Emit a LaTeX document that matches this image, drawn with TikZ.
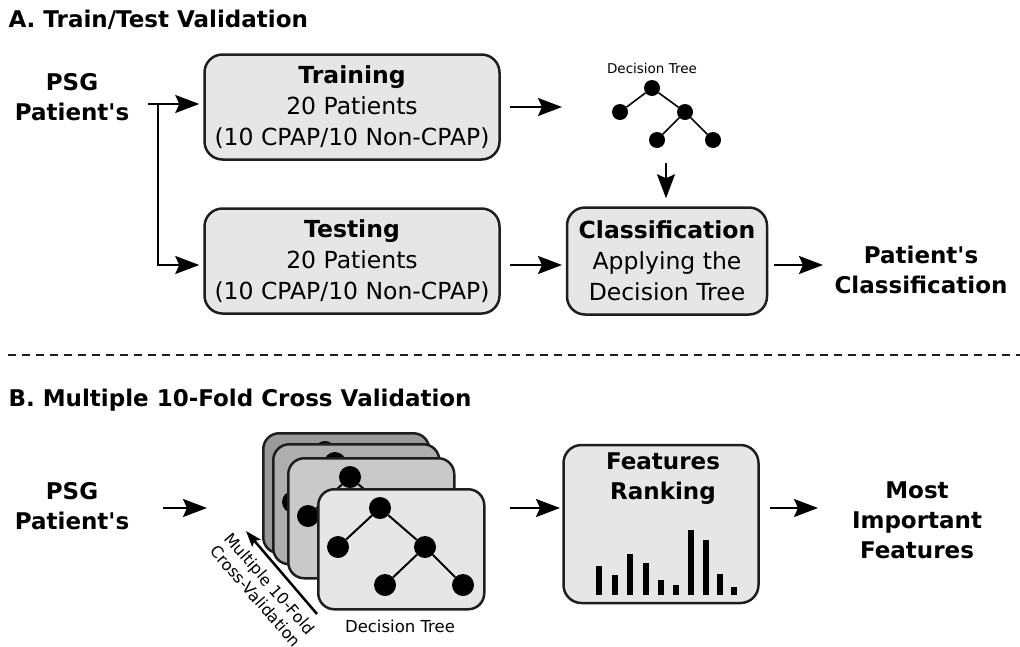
\documentclass[tikz,border=0pt]{standalone}
\usepackage{fontspec}
\setmainfont{DejaVu Sans}[Ligatures=TeXOff]
\usetikzlibrary{arrows.meta}
\usetikzlibrary{positioning}
\definecolor{boxgray}{HTML}{E6E6E6}
\definecolor{edgeblack}{HTML}{1E1E1E}
\definecolor{cardA}{HTML}{9A9A9A}
\definecolor{cardB}{HTML}{AEAEAE}
\definecolor{cardC}{HTML}{C9C9C9}
\tikzset{
box/.style={draw=edgeblack, fill=boxgray, line width=2.5pt, rounded corners=18pt,
    minimum width=295pt, minimum height=105pt, align=center, inner sep=0pt,
    font=\fontsize{23.5}{31}\selectfont},
card/.style={draw=edgeblack, line width=2.5pt, rounded corners=16pt,
    minimum width=166pt, minimum height=120pt, inner sep=0pt},
arr/.style={-{Stealth[length=24pt,width=18pt,inset=4pt]}, line width=2pt},
dot/.style={circle, fill=black, inner sep=0pt, minimum size=16pt},
bigdot/.style={circle, fill=black, inner sep=0pt, minimum size=22pt},
headline/.style={anchor=west, font=\bfseries\fontsize{23}{27}\selectfont},
bigbold/.style={align=center, font=\bfseries\fontsize{23}{30}\selectfont},
}

\begin{document}
\begin{tikzpicture}[x=1pt, y=-1pt]
		\useasboundingbox (0,0) rectangle (1020,646);
		% part A
		\node[headline] (titleA) at (5,20) {A. Train/Test Validation};
		\node[bigbold] (psgA) at (72,97) {PSG\\Patient's};
		\node[box] (train) at (352,107) {\textbf{Training}\\20 Patients\\(10 CPAP/10 Non-CPAP)};
		\node[box] (test) at (352,261) {\textbf{Testing}\\20 Patients\\(10 CPAP/10 Non-CPAP)};
		\node[box, minimum width=200pt, minimum height=107pt] (classif) at (667,261) {\textbf{Classification}\\Applying the\\Decision Tree};
		\node[bigbold] (result) at (921,270) {Patient's\\Classification};
		\node[font=\fontsize{13.5}{16}\selectfont] (treeLabel) at (652,68) {Decision Tree};
		\node[dot] (tr) at (652,88) {};
		\node[dot] (tl) at (620,112) {};
		\node[dot] (tm) at (685,112) {};
		\node[dot] (tml) at (657,140) {};
		\node[dot] (tmr) at (713,140) {};
		\draw[line width=1.6pt] (tl) -- (tr) -- (tm) -- (tml);
		\draw[line width=1.6pt] (tm) -- (tmr);
		\coordinate (start) at (148,104);
		\coordinate (fork) at (158,104);
		\coordinate (trainOut) at (510,107);
		\coordinate (treeIn) at (562,107);
		\coordinate (treeOut) at (666,163);
		\coordinate (testOut) at (510,265);
		\coordinate (classIn) at (562,265);
		\coordinate (classOut) at (774,265);
		\coordinate (resultIn) at (823,265);
		\draw[line width=2pt] (start) -- (fork);
		\draw[arr, shorten >=4pt] (fork) -- (train.west |- fork);
		\draw[arr, shorten >=4pt] (fork) |- (test.west |- classIn);
		\draw[arr] (trainOut) -- (treeIn);
		\draw[arr, shorten >=8pt] (treeOut) -- (classif.north -| treeOut);
		\draw[arr] (testOut) -- (classIn);
		\draw[arr] (classOut) -- (resultIn);
		% separator
		\draw[line width=2pt, draw=edgeblack, dash pattern=on 8pt off 6pt] (8,355) -- (1020,355);
		% part B
		\node[headline] (titleB) at (5,400) {B. Multiple 10-Fold Cross Validation};
		\node[bigbold] (psgB) at (72,506) {PSG\\Patient's};
		\foreach \x/\y/\c [count=\i] in {262/432/cardA, 272/443/cardB, 287/457/cardC, 317/488/boxgray} {
			\node[card, fill=\c, anchor=north west] (card\i) at (\x,\y) {};
			\begin{scope}[shift={(card\i.north west)}]
				\node[bigdot] (r\i) at (63,20) {};
				\node[bigdot] (l\i) at (21,59) {};
				\node[bigdot] (m\i) at (108,59) {};
				\node[bigdot] (ml\i) at (68,97) {};
				\node[bigdot] (mr\i) at (146,97) {};
				\draw[line width=2pt] (l\i) -- (r\i) -- (m\i) -- (ml\i);
				\draw[line width=2pt] (m\i) -- (mr\i);
			\end{scope}
		}
		\node[font=\fontsize{16.5}{20}\selectfont] (cardLabel) at (400,626) {Decision Tree};
		\coordinate (cvTail) at (317,614);
		\coordinate (cvHead) at (246,531);
		\draw[-{Stealth[length=16pt,width=11pt,inset=3pt]}, line width=2.5pt] (cvTail) -- (cvHead);
		\node[rotate=-49, align=center, font=\fontsize{16}{19}\selectfont] (cvLabel) at (263,590) {Multiple 10-Fold\\Cross-Validation};
		\node[box, minimum width=195pt, minimum height=158pt] (rank) at (661,524) {};
		\node[bigbold] (rankLabel) at (663,479) {Features\\Ranking};
		\foreach \bx/\by in {599/566, 615/575, 630/554, 646/563, 661/580, 676/585, 691/530, 706/540, 720/574, 734/587} {
			\fill (\bx-3,595) rectangle (\bx+3,\by);
		}
		\node[bigbold] (best) at (917,520) {Most\\Important\\Features};
		\coordinate (psgOut) at (163,508);
		\coordinate (cardIn) at (207,508);
		\coordinate (cardOut) at (510,508);
		\coordinate (rankIn) at (560,508);
		\coordinate (rankOut) at (770,508);
		\coordinate (bestIn) at (818,508);
		\draw[arr] (psgOut) -- (cardIn);
		\draw[arr] (cardOut) -- (rankIn);
		\draw[arr] (rankOut) -- (bestIn);
	\end{tikzpicture}
\end{document}
